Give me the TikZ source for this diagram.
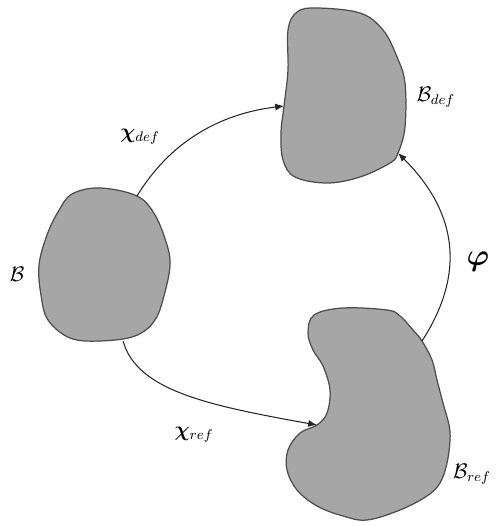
\documentclass[tikz,border=0pt]{standalone}
\usepackage{amsmath}
\usepackage{amssymb}
\usepackage{bm}
\usepackage{tikz}
\usetikzlibrary{arrows.meta}
\usetikzlibrary{positioning}
\newcommand{\bodyref}{\mathcal{B}_{ref}}
\newcommand{\bodydef}{\mathcal{B}_{def}}
\tikzset{
  body/.style={fill=gray!70, draw=black!70, line width=0.7pt},
  map/.style={-{Latex[length=5pt,width=4pt]}, draw=black!85, line width=0.6pt}
}

\begin{document}
\begin{tikzpicture}[x=0.02cm, y=-0.02cm, every node/.style={font=\large}]
  \useasboundingbox (0,0) rectangle (500,526);

  % reference body B
  \draw[body] plot[smooth cycle, tension=0.6] coordinates {
    (100,188) (137,196) (155,215) (167,245) (170,265) (165,292) (155,320)
    (135,336) (100,341) (70,338) (48,320) (41,295) (39,265) (47,235)
    (58,212) (72,194)};
  \node (B) at (17,274) {$\mathcal{B}$};
  \coordinate (Bout1) at (137,196);
  \coordinate (Bout2) at (123,341);

  % deformed body
  \draw[body] plot[smooth cycle, tension=0.6] coordinates {
    (317,8) (360,13) (383,30) (397,57) (405,83) (405,127) (398,153)
    (390,163) (360,177) (327,183) (295,177) (283,160) (281,133) (284,106)
    (288,70) (288,30) (297,12)};
  \node (Bdef) at (436,97) {$\bodydef$};
  \coordinate (Bdefin1) at (284,106);
  \coordinate (Bdefin2) at (398,153);

  % intermediate body
  \draw[body] plot[smooth cycle, tension=0.6] coordinates {
    (343,308) (387,310) (400,316) (413,330) (422,341) (432,360) (437,380)
    (443,403) (449,425) (450,440) (447,463) (440,483) (427,496) (400,510)
    (367,520) (343,516) (317,506) (297,490) (287,470) (288,450) (300,433)
    (317,425) (327,413) (330,390) (323,366) (313,350) (308,333) (314,315)};
  \node (Bref) at (472,474) {$\bodyref$};
  \coordinate (Brefin) at (317,425);
  \coordinate (Brefout) at (422,341);

  % maps
  \draw[map] (Bout1) .. controls (165,150) and (210,115) .. (Bdefin1);
  \node (chidef) at (140,137) {$\bm{\chi}_{def}$};
  \draw[map] (Bout2) .. controls (137,390) and (205,405) .. (Brefin);
  \node (chiref) at (194,435) {$\bm{\chi}_{ref}$};
  \draw[map] (Brefout) .. controls (455,290) and (470,225) .. (Bdefin2);
  \node[font=\LARGE] (phi) at (478,262) {$\bm{\varphi}$};

\end{tikzpicture}
\end{document}
